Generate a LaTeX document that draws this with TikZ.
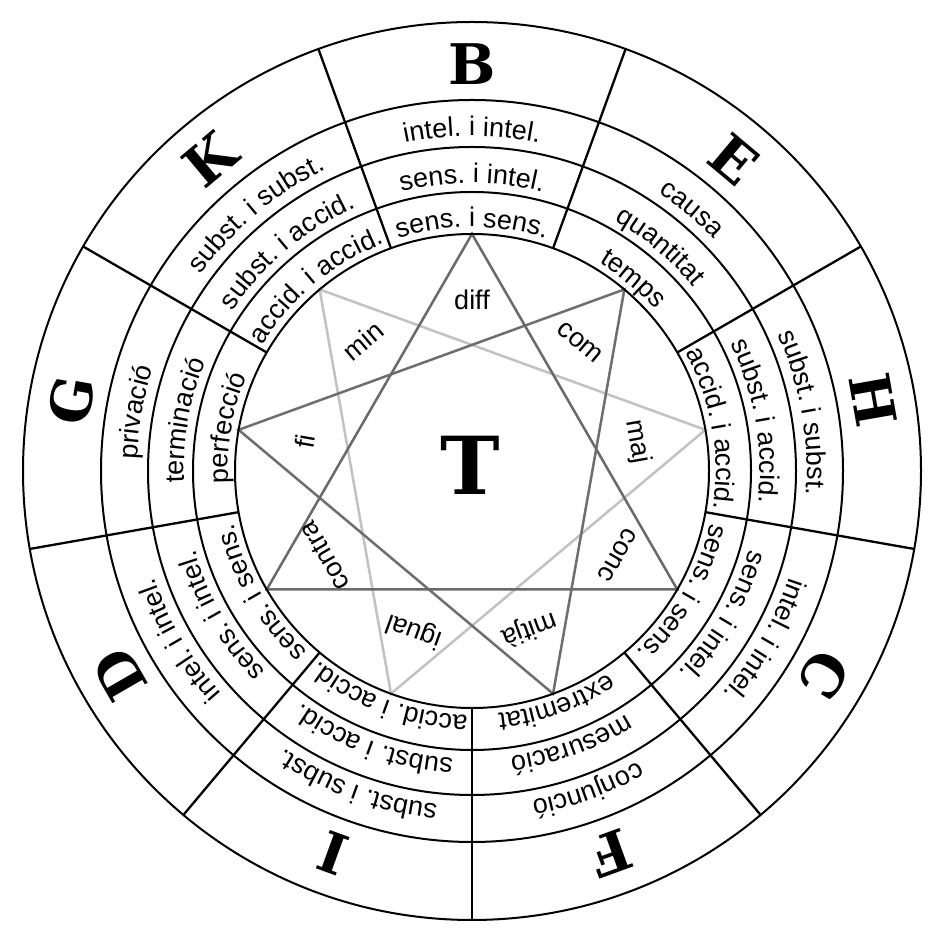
\documentclass[tikz,border=0pt]{standalone}
\usepackage{fontspec}
\setmainfont{Liberation Sans}
\newfontfamily\slabfont{DejaVu Serif}
\usetikzlibrary{decorations.text}
\definecolor{tridarkc}{HTML}{6A6A6A}
\definecolor{trimidc}{HTML}{6E6E6E}
\definecolor{trilightc}{HTML}{C2C2C2}
\newcommand\rf{\fontsize{27pt}{30pt}\selectfont}
\newcommand\ringtext[3]{\path[decorate,decoration={text along path,text align=center,text={|\rf|#3}}] (#1+20:#2) arc[start angle=#1+20,end angle=#1-20,radius=#2];}
\begin{document}
\begin{tikzpicture}[x=1pt,y=1pt,
  ringline/.style={line width=2pt,black},
  divider/.style={line width=2.3pt,black},
  tridark/.style={draw=tridarkc,line width=2.5pt,line join=miter},
  trimid/.style={draw=trimidc,line width=2.5pt,line join=miter},
  trilight/.style={draw=trilightc,line width=2.5pt,line join=miter},
  bigletter/.style={font=\slabfont\bfseries\fontsize{56pt}{60pt}\selectfont,inner sep=0pt},
  centerletter/.style={font=\slabfont\bfseries\fontsize{80pt}{84pt}\selectfont,inner sep=0pt},
  innerlabel/.style={font=\rf,inner sep=0pt}]
\useasboundingbox (0,0) rectangle (945,945);
\fill[white] (0,0) rectangle (945,945);
\begin{scope}[shift={(472,474)}]
\coordinate (O) at (0,0);
\foreach \n/\a in {B/90,E/50,H/10,C/-30,F/-70,I/-110,D/-150,G/170,K/130}
  \coordinate (v\n) at (\a:237);
% triangles
\draw[trilight] (vH) -- (vI) -- (vK) -- cycle;
\draw[trimid] (vE) -- (vF) -- (vG) -- cycle;
\draw[tridark] (vB) -- (vC) -- (vD) -- cycle;
% circles
\draw[ringline] (O) circle[radius=237];
\draw[ringline] (O) circle[radius=279];
\draw[ringline] (O) circle[radius=324];
\draw[ringline] (O) circle[radius=371];
\draw[ringline] (O) circle[radius=449];
% dividers
\foreach \a in {30,70,...,350}
  \draw[divider] (\a:237) -- (\a:449);
% outer letters
\node[bigletter,rotate=0]    (LB) at (90:407)   {B};
\node[bigletter,rotate=-40]  (LE) at (50:407)   {E};
\node[bigletter,rotate=-80]  (LH) at (10:407)   {H};
\node[bigletter,rotate=-120] (LC) at (-30:407)  {C};
\node[bigletter,rotate=-160] (LF) at (-70:407)  {F};
\node[bigletter,rotate=160]  (LI) at (-110:407) {I};
\node[bigletter,rotate=120]  (LD) at (-150:407) {D};
\node[bigletter,rotate=80]   (LG) at (170:407)  {G};
\node[bigletter,rotate=40]   (LK) at (130:407)  {K};
% center
\node[centerletter] (LT) at (-2,6) {T};
% inner labels
\node[innerlabel,rotate=0]    (ldiff)   at (90:171)   {diff};
\node[innerlabel,rotate=-40]  (lcom)    at (50:168)   {com};
\node[innerlabel,rotate=-80]  (lmaj)    at (10:168)   {maj};
\node[innerlabel,rotate=-120] (lconc)   at (-30:168)  {conc};
\node[innerlabel,rotate=-160] (lmitja)  at (-70:168)  {mitjà};
\node[innerlabel,rotate=160]  (ligual)  at (-110:170) {igual};
\node[innerlabel,rotate=120]  (lcontra) at (-150:170) {contra};
\node[innerlabel,rotate=80]   (lfi)     at (170:170)  {fi};
\node[innerlabel,rotate=40]   (lmin)    at (130:170)  {min};
% ring texts: B
\ringtext{90}{244}{sens. i sens.}
\ringtext{90}{288}{sens. i intel.}
\ringtext{90}{335}{intel. i intel.}
% E
\ringtext{50}{244}{temps}
\ringtext{50}{288}{quantitat}
\ringtext{50}{335}{causa}
% H
\ringtext{10}{244}{accid. i accid.}
\ringtext{10}{288}{subst. i accid.}
\ringtext{10}{335}{subst. i subst.}
% C
\ringtext{-30}{244}{sens. i sens.}
\ringtext{-30}{288}{sens. i intel.}
\ringtext{-30}{335}{intel. i intel.}
% F
\ringtext{-70}{244}{extremitat}
\ringtext{-70}{288}{mesuració}
\ringtext{-70}{335}{conjunció}
% I
\ringtext{-110}{244}{accid. i accid.}
\ringtext{-110}{288}{subst. i accid.}
\ringtext{-110}{335}{subst. i subst.}
% D
\ringtext{-150}{244}{sens. i sens.}
\ringtext{-150}{288}{sens. i intel.}
\ringtext{-150}{335}{intel. i intel.}
% G
\ringtext{170}{244}{perfecció}
\ringtext{170}{288}{terminació}
\ringtext{170}{335}{privació}
% K
\ringtext{130}{244}{accid. i accid.}
\ringtext{130}{288}{subst. i accid.}
\ringtext{130}{335}{subst. i subst.}
\end{scope}
\end{tikzpicture}
\end{document}
